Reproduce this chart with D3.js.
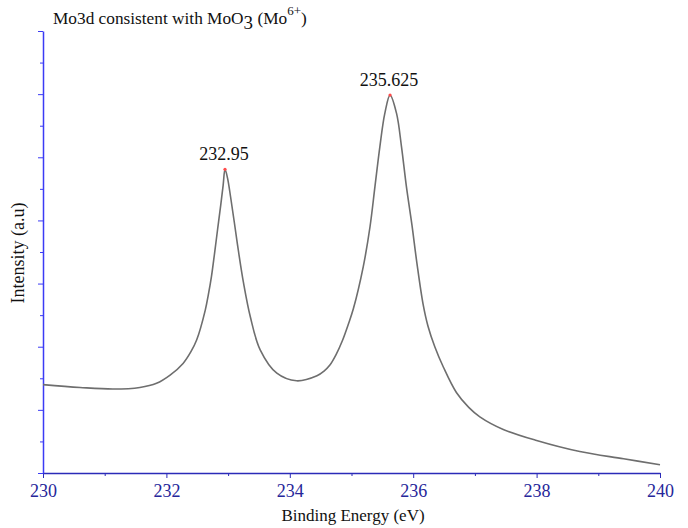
<!DOCTYPE html>
<html>
<head>
<meta charset="utf-8">
<script src="https://cdn.jsdelivr.net/npm/d3@7"></script>
<style>
  body { margin: 0; background: #fff; }
</style>
</head>
<body>
<div id="chart"></div>
<script>
// values (binding energy in eV, intensity in arbitrary units)
const energy = [230.00, 230.60, 231.14, 231.57, 231.84, 232.06, 232.27, 232.40, 232.49, 232.63,
    232.68, 232.73, 232.78, 232.83, 232.88, 232.92, 232.95, 232.99, 233.04, 233.10, 233.17,
    233.25, 233.36, 233.52, 233.79, 234.11, 234.44, 234.55, 234.65, 234.75, 234.85, 234.95,
    235.03, 235.19, 235.30, 235.38, 235.46, 235.54, 235.625, 235.73, 235.81, 235.89, 235.98,
    236.06, 236.16, 236.24, 236.35, 236.49, 236.70, 236.90, 237.08, 237.46, 238.00, 238.70,
    239.41, 240.00];
const intensity = [2.80, 2.71, 2.66, 2.71, 2.84, 3.10, 3.47, 3.85, 4.21, 5.16,
    5.65, 6.22, 6.95, 7.72, 8.48, 9.12, 9.62, 9.35, 8.75, 7.95, 7.00,
    6.02, 4.95, 3.90, 3.16, 2.92, 3.08, 3.22, 3.42, 3.75, 4.18, 4.72,
    5.20, 6.53, 7.80, 9.07, 10.34, 11.39, 11.97, 11.39, 10.34, 9.07, 7.85,
    6.65, 5.35, 4.65, 4.00, 3.35, 2.55, 2.08, 1.78, 1.38, 1.03, 0.68,
    0.45, 0.26];
const peakEnergy = [232.95, 235.625];
const peakIntensity = [9.62, 11.97];
const peakLabels = ["232.95", "235.625"];
const xTicks = [230, 232, 234, 236, 238, 240];

const serif = '"Liberation Serif", "Times New Roman", "DejaVu Serif", serif';

const params = {
    width: 688, height: 528,
    margin: { top: 31, right: 28, bottom: 55, left: 43 }
};
const w = params.width - params.margin.left - params.margin.right;
const h = params.height - params.margin.top - params.margin.bottom;

const svg = d3.select("#chart")
    .append("svg")
    .attr("width", params.width)
    .attr("height", params.height);

const g = svg.append("g")
    .attr("transform", `translate(${params.margin.left}, ${params.margin.top})`);

const x = d3.scaleLinear().domain([230, 240]).range([0, 617]);
const y = d3.scaleLinear().domain([0, 14]).range([h, 0]);

// x axis: minor ticks every 1 eV, labelled majors every 2 eV
g.append("g")
    .attr("transform", `translate(0,${h})`)
    .call(d3.axisBottom(x).tickValues(d3.range(231, 240, 2)).tickSize(3).tickFormat(""))
    .call(a => a.select(".domain").remove())
    .selectAll("line").attr("stroke", "#2b2bb8");
const xAxis = g.append("g")
    .attr("transform", `translate(0,${h})`)
    .call(d3.axisBottom(x).tickValues(xTicks).tickSize(5).tickSizeOuter(0).tickPadding(6));
xAxis.attr("font-family", null).attr("font-size", null);
xAxis.select(".domain").attr("stroke", "#2b2bb8").attr("stroke-width", 1.5);
xAxis.selectAll("line").attr("stroke", "#2b2bb8");
xAxis.selectAll("text")
    .attr("fill", "#26269a")
    .style("font-size", "18px")
    .style("font-family", serif);

// y axis: unlabelled, majors every 2, minors every 1
g.append("g")
    .call(d3.axisLeft(y).tickValues(d3.range(1, 14, 2)).tickSize(3).tickFormat(""))
    .call(a => a.select(".domain").remove())
    .selectAll("line").attr("stroke", "#3b3bf5");
const yAxis = g.append("g")
    .call(d3.axisLeft(y).tickValues(d3.range(0, 15, 2)).tickSize(5).tickSizeOuter(0).tickFormat(""));
yAxis.select(".domain").attr("stroke", "#3b3bf5").attr("stroke-width", 1.5);
yAxis.selectAll("line").attr("stroke", "#3b3bf5");

// spectrum
const data = energy.map((e, i) => ({ e: e, v: intensity[i] }));
const line = d3.line()
    .x(d => x(d.e))
    .y(d => y(d.v))
    .curve(d3.curveCatmullRom.alpha(0.5));

g.append("path")
    .datum(data)
    .attr("fill", "none")
    .attr("stroke", "#6e6e6e")
    .attr("stroke-width", 1.6)
    .attr("d", line);

// peak markers and labels
g.selectAll(".peak")
    .data(peakEnergy)
    .enter().append("circle")
    .attr("class", "peak")
    .attr("cx", d => x(d))
    .attr("cy", (d, i) => y(peakIntensity[i]))
    .attr("r", 1.6)
    .attr("fill", "#ff4a4a");

g.selectAll(".peak-label")
    .data(peakLabels)
    .enter().append("text")
    .attr("class", "peak-label")
    .attr("x", (d, i) => x(peakEnergy[i]) - 1)
    .attr("y", (d, i) => y(peakIntensity[i]) - 9)
    .attr("text-anchor", "middle")
    .style("font-size", "18px")
    .style("font-family", serif)
    .attr("fill", "#111")
    .text(d => d);

// axis titles
svg.append("text")
    .attr("x", 353)
    .attr("y", 521)
    .attr("text-anchor", "middle")
    .style("font-size", "17px")
    .style("font-family", serif)
    .attr("fill", "#111")
    .text("Binding Energy (eV)");

svg.append("text")
    .attr("transform", `translate(24, ${params.margin.top + h / 2 + 1}) rotate(-90)`)
    .attr("text-anchor", "middle")
    .style("font-size", "18px")
    .style("font-family", serif)
    .attr("fill", "#111")
    .text("Intensity (a.u)");

// title with sub/superscripts
const title = svg.append("text")
    .attr("x", 53)
    .attr("y", 24)
    .style("font-size", "17.3px")
    .style("font-family", serif)
    .attr("fill", "#111");
title.append("tspan").text("Mo3d consistent with MoO");
title.append("tspan").attr("dy", 5).style("font-size", "19px").text("3");
title.append("tspan").attr("dy", -5).text(" (Mo");
title.append("tspan").attr("dy", -9).style("font-size", "13px").text("6+");
title.append("tspan").attr("dy", 9).text(")");
</script>
</body>
</html>
